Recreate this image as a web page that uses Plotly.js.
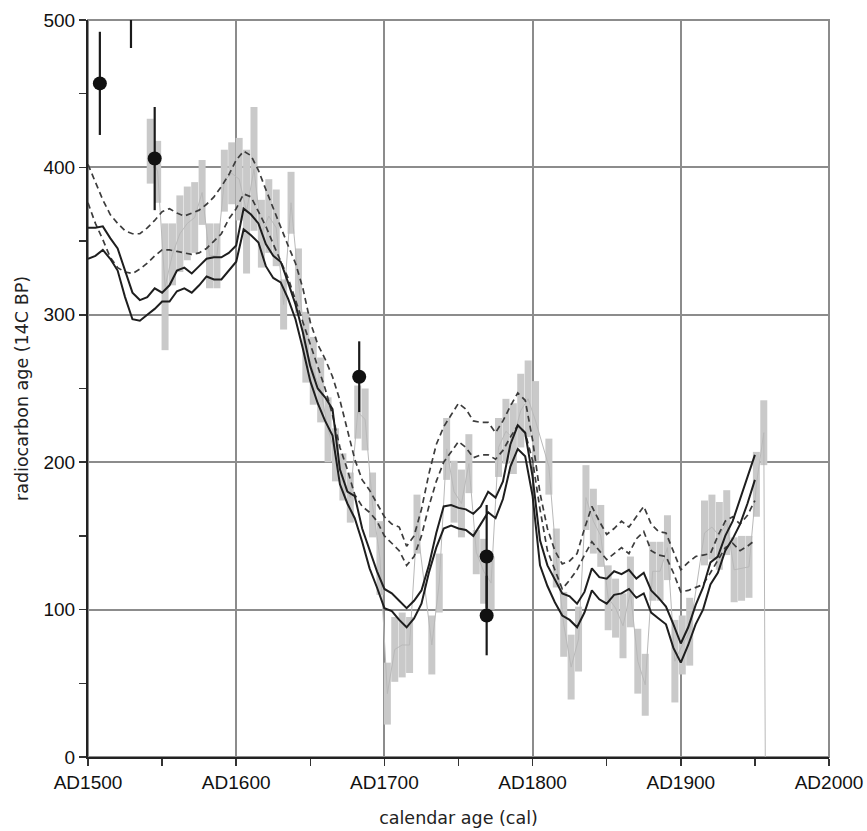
<!DOCTYPE html>
<html><head><meta charset="utf-8">
<script src="https://cdn.plot.ly/plotly-3.0.1.min.js"></script>
<style>html,body{margin:0;padding:0;background:#fff}#chart{width:867px;height:831px}</style>
</head><body><div id="chart"></div>
<script>
// Calibration curve years (5-yr steps)
var curveYears = [1500,1505,1510,1515,1520,1525,1530,1535,1540,1545,
1550,1555,1560,1565,1570,1575,1580,1585,1590,1595,
1600,1605,1610,1615,1620,1625,1630,1635,1640,1645,
1650,1655,1660,1665,1670,1675,1680,1685,1690,1695,
1700,1705,1710,1715,1720,1725,1730,1735,1740,1745,
1750,1755,1760,1765,1770,1775,1780,1785,1790,1795,
1800,1805,1810,1815,1820,1825,1830,1835,1840,1845,
1850,1855,1860,1865,1870,1875,1880,1885,1890,1895,
1900,1905,1910,1915,1920,1925,1930,1935,1940,1945,1950];

// Solid curve (upper and lower)
var solidUpper = [359,359,360,352,345,330,315,310,312,318,
315,320,330,332,328,333,338,339,339,342,
347,372,368,362,348,340,336,322,307,288,
265,250,244,236,195,180,177,155,140,126,
114,111,106,101,106,113,130,152,170,171,
169,168,165,170,180,176,187,212,225,220,
190,147,130,120,111,109,104,112,128,122,
121,126,124,127,121,125,113,108,102,90,
77,88,103,115,132,136,150,160,175,190,205];
var solidLower = [338,340,344,338,330,312,297,296,300,304,
309,309,316,318,315,320,326,324,324,330,
336,358,354,349,333,325,322,311,297,277,
255,240,228,218,185,172,162,146,128,115,
101,99,93,88,94,104,125,142,155,157,
155,154,150,158,166,162,175,197,209,204,
177,130,116,105,96,93,88,98,113,107,
104,110,111,114,108,111,98,94,90,74,
64,76,90,100,117,125,140,148,158,172,188];

// Dashed curve (upper and lower)
var dashedUpper = [402,390,378,368,362,357,355,355,359,364,
370,372,369,367,369,371,375,380,387,395,
405,411,408,398,385,372,360,347,335,318,
295,280,270,258,242,222,202,188,181,172,
163,158,156,143,150,168,192,212,224,232,
240,236,228,227,227,220,228,238,247,242,
215,179,155,140,131,133,138,155,170,160,
151,155,160,156,163,170,158,153,152,140,
127,132,136,137,138,150,160,163,158,164,174];
var dashedLower = [376,362,351,339,332,329,328,331,335,340,
344,344,343,342,341,342,345,350,355,365,
372,382,380,370,360,348,337,325,310,295,
280,264,250,232,210,195,178,170,166,160,
150,145,140,130,136,150,170,187,200,207,
214,210,203,205,205,202,208,217,225,220,
201,168,140,127,114,120,127,137,146,140,
134,138,142,138,148,153,140,137,136,125,
112,113,115,117,125,134,142,145,140,143,147];

// Measured series (gray bars: mean +/- error)
var barYears = [1542,1547,1552,1557,1562,1567,1572,1577,1582,1587,1592,1597,1602,1607,1612,
1617,1622,1627,1632,1637,1642,1647,1652,1657,1662,1667,1672,1677,1682,1687,1692,1697,
1702,1707,1712,1717,1722,1732,1737,1742,1747,1752,1757,1762,1767,1772,1777,1782,1787,1792,1797,1802,
1811,1816,1821,1826,1831,1836,1841,1846,1851,1856,1861,1866,1871,1876,1881,1886,1891,1896,1901,1906,
1916,1921,1926,1931,1936,1941,1946,1951,1956,1957];
var barMean = [411,397,319,341,355,362,366,383,340,340,391,396,392,370,399,
355,367,359,307,376,323,278,262,249,222,205,190,176,234,229,171,135,
43,73,76,76,158,76,118,209,180,172,199,139,126,118,210,221,216,235,243,228,
197,135,90,61,80,176,160,150,108,101,89,112,65,49,126,126,142,65,76,85,
152,156,150,159,127,128,129,185,220,0];
var barErr = [22,21,43,21,26,25,24,22,22,22,21,21,28,42,42,
23,25,26,17,21,22,24,23,22,22,18,16,17,18,21,22,25,
21,22,22,19,20,20,20,21,21,23,20,15,22,18,20,22,24,25,26,27,
19,20,22,22,22,22,22,21,22,20,22,24,22,21,20,20,22,28,20,23,
22,22,23,22,22,22,21,22,22,0];

// Black points with error bars
var dotYears = [1508,1529,1545,1683,1769,1769];
var dotValues = [457,518,406,258,136,96];
var dotErr = [35,37,35,24,35,27];

// Axis ticks
var xTickVals = [1500,1600,1700,1800,1900,2000];
var xTickText = ['AD1500','AD1600','AD1700','AD1800','AD1900','AD2000'];
var yTickVals = [0,100,200,300,400,500];
var yTickText = ['0','100','200','300','400','500'];

var tickFam = 'Liberation Sans, Arial, sans-serif';
var titleFam = 'DejaVu Sans, sans-serif';
var traces = [
  {x: barYears, y: barMean, mode: 'lines', line: {color: '#b9b9b9', width: 1},
   error_y: {type: 'data', array: barErr, visible: true, color: '#c9c9c9', thickness: 7, width: 0},
   hoverinfo: 'skip'},
  {x: curveYears, y: dashedUpper, mode: 'lines', line: {color: '#3c3c3c', width: 1.7, dash: '6px,4px'}},
  {x: curveYears, y: dashedLower, mode: 'lines', line: {color: '#3c3c3c', width: 1.7, dash: '6px,4px'}},
  {x: curveYears, y: solidUpper, mode: 'lines', line: {color: '#1e1e1e', width: 2}},
  {x: curveYears, y: solidLower, mode: 'lines', line: {color: '#1e1e1e', width: 2}},
  {x: dotYears, y: dotValues, mode: 'markers', marker: {color: '#111', size: 14},
   error_y: {type: 'data', array: dotErr, visible: true, color: '#1a1a1a', thickness: 2.2, width: 0}}
];

var axisCommon = {
  ticks: 'outside', ticklen: 7, tickwidth: 1.5, tickcolor: '#333',
  showgrid: true, gridcolor: '#8c8c8c', gridwidth: 2,
  showline: true, linecolor: '#222', linewidth: 2, zeroline: false,
  tickfont: {family: tickFam, size: 19, color: '#111'}
};

var layout = {
  width: 867, height: 831,
  margin: {l: 88, r: 38, t: 20, b: 74},
  paper_bgcolor: '#fff', plot_bgcolor: '#fff',
  showlegend: false,
  xaxis: Object.assign({}, axisCommon, {
    range: [1500, 2000], tickmode: 'array', tickvals: xTickVals, ticktext: xTickText,
    minor: {tickmode: 'linear', tick0: 1500, dtick: 50, ticks: 'outside', ticklen: 7, tickcolor: '#333', tickwidth: 1.5, showgrid: false},
    title: {text: 'calendar age (cal)', font: {family: titleFam, size: 17.5, color: '#222'}, standoff: 20}
  }),
  yaxis: Object.assign({}, axisCommon, {
    range: [0, 500], tickmode: 'array', tickvals: yTickVals, ticktext: yTickText,
    minor: {tickmode: 'linear', tick0: 0, dtick: 50, ticks: 'outside', ticklen: 7, tickcolor: '#333', tickwidth: 1.5, showgrid: false},
    title: {text: 'radiocarbon age (14C BP)', font: {family: titleFam, size: 17.5, color: '#222'}, standoff: 10}
  }),
  shapes: [{type: 'rect', xref: 'paper', yref: 'paper', x0: 0, x1: 1, y0: 0, y1: 1,
            line: {color: '#8c8c8c', width: 2}, layer: 'below'}]
};

Plotly.newPlot('chart', traces, layout, {displayModeBar: false, staticPlot: true});
</script></body></html>
